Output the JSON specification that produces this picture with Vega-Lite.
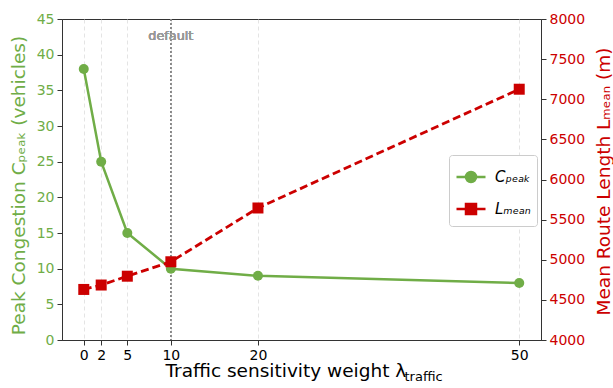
{
  "$schema": "https://vega.github.io/schema/vega-lite/v6.json",
  "width": 479,
  "height": 321,
  "autosize": {"type": "none"},
  "padding": {"left": 62, "top": 19, "right": 72, "bottom": 48},
  "background": "white",
  "config": {
    "font": "DejaVu Sans",
    "view": {"stroke": "#333333", "strokeWidth": 1},
    "axis": {
      "labelFont": "DejaVu Sans",
      "titleFont": "DejaVu Sans",
      "titleFontWeight": "normal",
      "domainColor": "#333333",
      "tickColor": "#333333",
      "labelFontSize": 14,
      "titleFontSize": 18.5,
      "tickSize": 5,
      "labelPadding": 3,
      "labelOverlap": false,
      "grid": false
    }
  },
  "data": {
    "values": [
      {"lam": 0, "C": 38, "L": 4630},
      {"lam": 2, "C": 25, "L": 4685},
      {"lam": 5, "C": 15, "L": 4795},
      {"lam": 10, "C": 10, "L": 4975},
      {"lam": 20, "C": 9, "L": 5645},
      {"lam": 50, "C": 8, "L": 7125}
    ]
  },
  "layer": [
    {
      "layer": [
        {
          "mark": {"type": "rule", "color": "#888888", "strokeDash": [2, 2], "strokeWidth": 1},
          "encoding": {"x": {"datum": 10, "type": "quantitative"}}
        },
        {
          "mark": {"type": "text", "text": "default", "color": "#999999", "font": "DejaVu Sans", "fontWeight": 400, "fontSize": 12.8, "baseline": "middle"},
          "encoding": {
            "x": {"datum": 10, "type": "quantitative"},
            "y": {"datum": 42.6, "type": "quantitative", "axis": {"values": [0, 5, 10, 15, 20, 25, 30, 35, 40, 45], "labelOverlap": false}}
          }
        },
        {
          "mark": {"type": "line", "strokeWidth": 2.5, "point": {"filled": true, "size": 100, "opacity": 1}},
          "encoding": {
            "x": {
              "field": "lam",
              "type": "quantitative",
              "scale": {"domain": [-2.5, 52.5], "nice": false, "zero": false},
              "axis": {
                "values": [0, 2, 5, 10, 20, 50],
                "labelColor": "#000000",
                "labelFontSize": 14,
                "labelOverlap": false,
                "grid": true,
                "gridColor": "#dddddd",
                "gridDash": [4, 3],
                "gridWidth": 0.8,
                "title": "Traffic sensitivity weight  λ",
                "titleFontSize": 18.5,
                "titleColor": "#000000",
                "titleAlign": "left",
                "titleBaseline": "alphabetic",
                "titleX": 103,
                "titleY": 36
              }
            },
            "y": {
              "field": "C",
              "type": "quantitative",
              "scale": {"domain": [0, 45], "nice": false},
              "axis": {
                "values": [0, 5, 10, 15, 20, 25, 30, 35, 40, 45],
                "labelColor": "#70ad47",
                "labelFontSize": 14,
                "labelOverlap": false,
                "title": "Peak Congestion  Cₚₑₐₖ  (vehicles)",
                "titleFontSize": 18.5,
                "titleColor": "#70ad47",
                "titleAngle": 270,
                "titleAlign": "center",
                "titleBaseline": "middle",
                "titleX": -44,
                "titleY": 166
              }
            },
            "color": {
              "datum": "Cₚₑₐₖ",
              "type": "nominal",
              "scale": {"domain": ["Cₚₑₐₖ", "Lₘₑₐₙ"], "range": ["#70ad47", "#cc0000"]},
              "legend": {
                "title": null,
                "orient": "none",
                "legendX": 387,
                "legendY": 136,
                "symbolSize": 841,
                "symbolStrokeWidth": 2.5,
                "fillColor": "white",
                "strokeColor": "#cccccc",
                "cornerRadius": 3,
                "padding": 6,
                "rowPadding": 5,
                "labelFont": "DejaVu Sans",
                "labelFontSize": 15,
                "labelFontStyle": "italic",
                "labelColor": "#000000",
                "labelOffset": 8,
                "encode": {
                  "symbols": {
                    "update": {
                      "shape": {"signal": "datum.index === 0 ? 'M-1,0H1M0.345,0A0.345,0.345,0,1,1,-0.345,0A0.345,0.345,0,1,1,0.345,0Z' : 'M-1,0H1M-0.345,-0.345H0.345V0.345H-0.345Z'"},
                      "fill": {"scale": "color", "field": "value"},
                      "stroke": {"scale": "color", "field": "value"},
                      "opacity": {"value": 1}
                    }
                  }
                }
              }
            }
          }
        }
      ]
    },
    {
      "mark": {"type": "line", "strokeWidth": 2.8, "strokeDash": [8, 4], "point": {"filled": true, "size": 121, "shape": "square", "opacity": 1}},
      "encoding": {
        "x": {
          "field": "lam",
          "type": "quantitative",
          "axis": {
            "orient": "bottom",
            "labels": false,
            "ticks": false,
            "domain": false,
            "grid": false,
            "title": "traffic",
            "titleFontSize": 13,
            "titleColor": "#000000",
            "titleAlign": "left",
            "titleBaseline": "alphabetic",
            "titleX": 342,
            "titleY": 40
          }
        },
        "y": {
          "field": "L",
          "type": "quantitative",
          "scale": {"domain": [4000, 8000], "nice": false, "zero": false},
          "axis": {
            "orient": "right",
            "values": [4000, 4500, 5000, 5500, 6000, 6500, 7000, 7500, 8000],
            "format": "d",
            "labelColor": "#cc0000",
            "labelFontSize": 14,
            "labelOverlap": false,
            "title": "Mean Route Length  Lₘₑₐₙ  (m)",
            "titleFontSize": 18.5,
            "titleColor": "#cc0000",
            "titleAngle": 270,
            "titleAlign": "center",
            "titleBaseline": "middle",
            "titleX": 62,
            "titleY": 162
          }
        },
        "color": {"datum": "Lₘₑₐₙ", "type": "nominal"}
      }
    }
  ],
  "resolve": {"scale": {"y": "independent"}, "axis": {"x": "independent"}}
}
